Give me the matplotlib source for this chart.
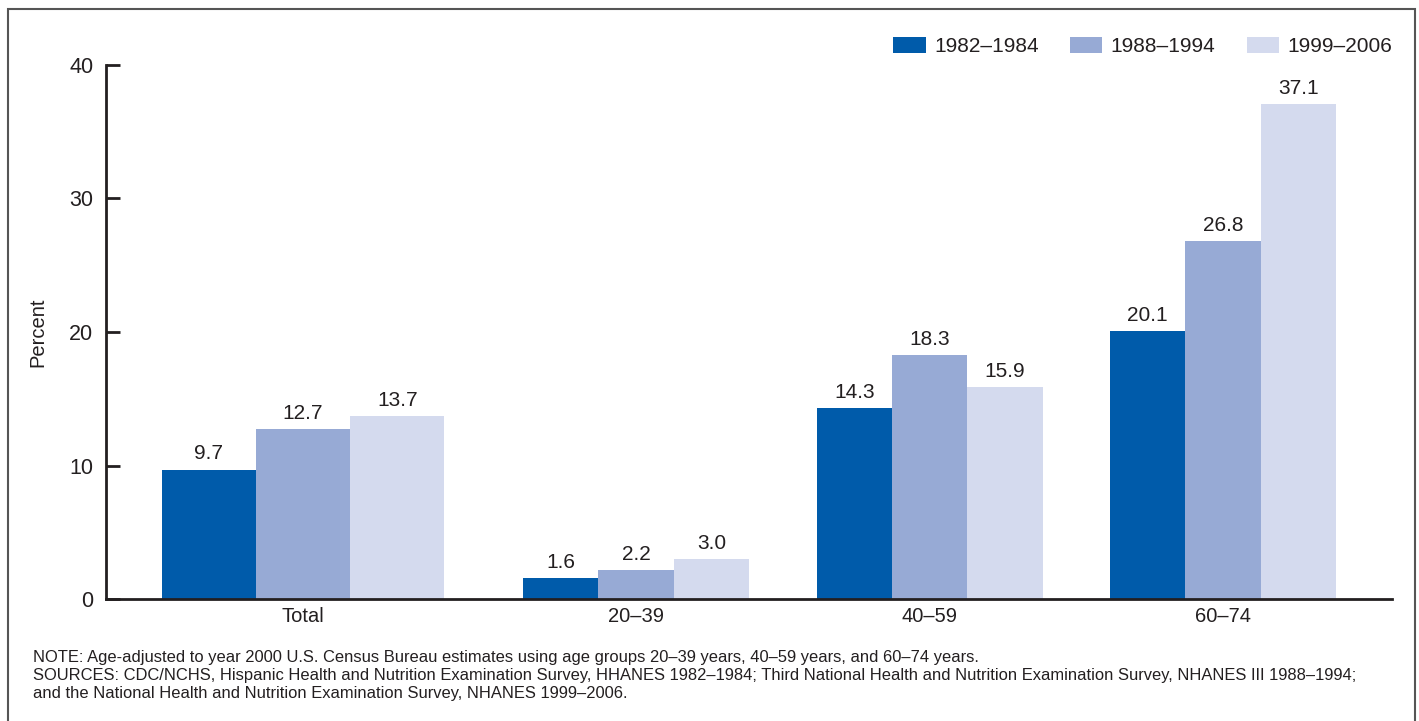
import numpy as np
import matplotlib.pyplot as plt
from matplotlib.patches import Rectangle

plt.rcParams['font.family'] = ['Liberation Sans', 'DejaVu Sans']

groups = ['Total', '20\u201339', '40\u201359', '60\u201374']
periods = ['1982\u20131984', '1988\u20131994', '1999\u20132006']
v_1982 = [9.7, 1.6, 14.3, 20.1]
v_1988 = [12.7, 2.2, 18.3, 26.8]
v_1999 = [13.7, 3.0, 15.9, 37.1]
yticks = [0, 10, 20, 30, 40]

note = ('NOTE: Age-adjusted to year 2000 U.S. Census Bureau estimates using age groups 20\u201339 years, 40\u201359 years, and 60\u201374 years.\n'
        'SOURCES: CDC/NCHS, Hispanic Health and Nutrition Examination Survey, HHANES 1982\u20131984; Third National Health and Nutrition Examination Survey, NHANES III 1988\u20131994;\n'
        'and the National Health and Nutrition Examination Survey, NHANES 1999\u20132006.')

colors = ['#005BAA', '#97AAD5', '#D4DAEE']
txt = '#231F20'

# layout: group centres and bar widths (Total group is wider in the original)
pos = np.array([0, 1.135, 2.135, 3.135])
widths = np.array([0.321, 0.257, 0.257, 0.257])

fig = plt.figure(figsize=(14.19, 7.21), dpi=100)
fig.patches.append(Rectangle((8 / 1419, -0.1), 1407 / 1419, 1.1 - 9 / 721,
                             transform=fig.transFigure, fill=False,
                             edgecolor='#555555', linewidth=1.5))
ax = fig.add_axes([106 / 1419, 1 - 599 / 721, 1286 / 1419, 534 / 721])

series = [v_1982, v_1988, v_1999]
for i, vals in enumerate(series):
    xs = pos + (i - 1) * widths
    ax.bar(xs, vals, width=widths, color=colors[i], label=periods[i])
    for x, v in zip(xs, vals):
        ax.text(x, v + 0.45, '%.1f' % v, ha='center', va='bottom',
                fontsize=15, color=txt)

ax.set_xlim(-0.671, 3.71)
ax.set_ylim(0, 40)
ax.set_yticks(yticks)
ax.set_xticks(pos)
ax.set_xticklabels(groups)
ax.tick_params(axis='y', direction='in', length=10, width=2, labelsize=15.5,
               colors=txt, pad=9)
ax.tick_params(axis='x', length=0, labelsize=14.5, colors=txt, pad=6)
for s in ['top', 'right']:
    ax.spines[s].set_visible(False)
for s in ['left', 'bottom']:
    ax.spines[s].set_linewidth(2)
    ax.spines[s].set_color(txt)
ax.set_ylabel('Percent', fontsize=14.5, color=txt, labelpad=16)

ax.legend(loc='center right', bbox_to_anchor=(1.0, 1.034), ncol=3, frameon=False,
          fontsize=15, handlelength=1.55, handleheight=0.8, columnspacing=1.5,
          handletextpad=0.4, labelcolor=txt, borderaxespad=0, borderpad=0)

fig.text(33 / 1419, 1 - 650 / 721, note, fontsize=11.9, color=txt,
         va='top', ha='left', linespacing=1.24)

fig.savefig('out.png', dpi=100)
